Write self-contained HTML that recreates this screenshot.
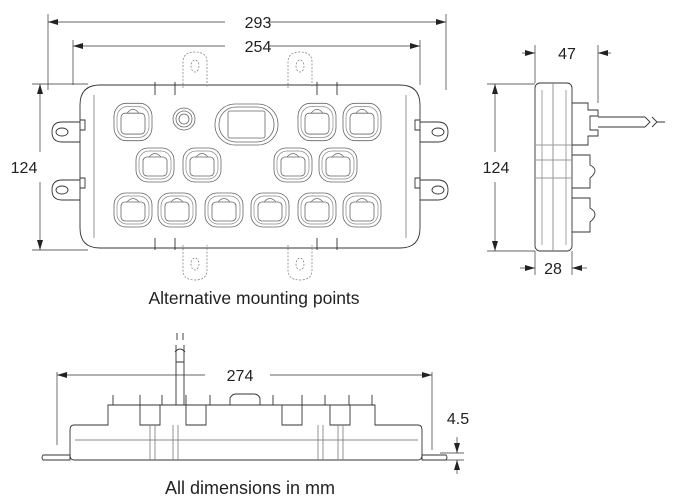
<!DOCTYPE html>
<html><head><meta charset="utf-8"><style>
html,body{margin:0;padding:0;background:#fff;width:676px;height:500px;overflow:hidden}
svg{display:block}
text{font-family:"Liberation Sans",sans-serif;fill:#222}
</style></head><body>
<svg width="676" height="500" viewBox="0 0 676 500" xmlns="http://www.w3.org/2000/svg">
<defs>
<marker id="a" viewBox="0 0 10 6" refX="10" refY="3" markerWidth="12" markerHeight="6" orient="auto-start-reverse" markerUnits="userSpaceOnUse"><path d="M0,0L10,3L0,6z" fill="#222"/></marker>
<g id="c">
<rect x="-19" y="-17" width="38" height="34" rx="12" fill="none" stroke="#666" stroke-width="0.8"/>
<rect x="-16" y="-14" width="32" height="28" rx="10" fill="none" stroke="#888" stroke-width="0.7"/>
<rect x="-12" y="-8" width="24" height="19" rx="4" fill="none" stroke="#666" stroke-width="0.8"/>
<path d="M-6,-8 Q0,-15 6,-8" fill="none" stroke="#666" stroke-width="0.7"/>
</g>
</defs>
<g stroke="#333" stroke-width="0.7" fill="none">
<line x1="48" y1="14" x2="48" y2="90"/><line x1="446" y1="14" x2="446" y2="90"/>
<line x1="73" y1="40" x2="73" y2="85"/><line x1="420" y1="40" x2="420" y2="85"/>
<line x1="48" y1="22" x2="225" y2="22" marker-start="url(#a)"/><line x1="268" y1="22" x2="446" y2="22" marker-end="url(#a)"/>
<line x1="73" y1="46" x2="225" y2="46" marker-start="url(#a)"/><line x1="268" y1="46" x2="420" y2="46" marker-end="url(#a)"/>
<line x1="32" y1="84" x2="88" y2="84"/><line x1="32" y1="250" x2="88" y2="250"/>
<line x1="40" y1="84" x2="40" y2="152" marker-start="url(#a)"/><line x1="40" y1="182" x2="40" y2="250" marker-end="url(#a)"/>
</g>
<text x="258" y="28" font-size="16" text-anchor="middle">293</text>
<text x="258" y="52" font-size="16" text-anchor="middle">254</text>
<text x="24" y="173" font-size="16" text-anchor="middle">124</text>
<g stroke="#333" stroke-width="0.9" fill="none">
<path d="M100,85 H400 Q420,85 420,105 V228 Q420,248 400,248 H100 Q80,248 80,228 V105 Q80,85 100,85z"/>
<line x1="94" y1="95" x2="94" y2="238" stroke="#888"/><line x1="406" y1="95" x2="406" y2="238" stroke="#888"/>
<path d="M80,122 H62 Q52,122 52,132 Q52,142 62,142 H80"/><ellipse cx="62" cy="132" rx="6" ry="4"/>
<path d="M80,180 H62 Q52,180 52,190 Q52,200 62,200 H80"/><ellipse cx="62" cy="190" rx="6" ry="4"/>
<path d="M420,122 H438 Q448,122 448,132 Q448,142 438,142 H420"/><ellipse cx="438" cy="132" rx="6" ry="4"/>
<path d="M420,180 H438 Q448,180 448,190 Q448,200 438,200 H420"/><ellipse cx="438" cy="190" rx="6" ry="4"/>
<path d="M80,120 H85 V130 H80 M80,178 H85 V188 H80 M420,120 H415 V130 H420 M420,178 H415 V188 H420"/>
<path d="M155,82 V95 M175,82 V95 M317,82 V95 M337,82 V95 M155,238 V250 M175,238 V250 M317,238 V250 M337,238 V250"/>
</g>
<g stroke="#777" stroke-width="0.7" fill="none" stroke-dasharray="2,1.5">
<path d="M183,88 V62 Q183,52 195,52 Q207,52 207,62 V88"/><ellipse cx="195" cy="66" rx="4" ry="6"/>
<path d="M288,88 V62 Q288,52 300,52 Q312,52 312,62 V88"/><ellipse cx="300" cy="66" rx="4" ry="6"/>
<path d="M183,245 V270 Q183,280 195,280 Q207,280 207,270 V245"/><ellipse cx="195" cy="264" rx="4" ry="6"/>
<path d="M288,245 V270 Q288,280 300,280 Q312,280 312,270 V245"/><ellipse cx="300" cy="264" rx="4" ry="6"/>
</g>
<use href="#c" transform="translate(133,122) scale(1,1.1)"/>
<use href="#c" transform="translate(317,122) scale(1,1.1)"/>
<use href="#c" transform="translate(362,122) scale(1,1.1)"/>
<use href="#c" transform="translate(155,165)"/>
<use href="#c" transform="translate(202,165)"/>
<use href="#c" transform="translate(293,165)"/>
<use href="#c" transform="translate(338,165)"/>
<use href="#c" transform="translate(133,210)"/>
<use href="#c" transform="translate(177,210)"/>
<use href="#c" transform="translate(224,210)"/>
<use href="#c" transform="translate(270,210)"/>
<use href="#c" transform="translate(317,210)"/>
<use href="#c" transform="translate(362,210)"/>
<g stroke="#666" stroke-width="0.8" fill="none">
<circle cx="184" cy="119" r="11"/><circle cx="184" cy="119" r="8"/><circle cx="184" cy="119" r="5"/>
<rect x="215" y="104" width="63" height="41" rx="20"/><rect x="219" y="107" width="55" height="35" rx="17"/>
<rect x="228" y="111" width="37" height="27" rx="2"/>
</g>
<text x="254" y="304" font-size="17.5" text-anchor="middle">Alternative mounting points</text>
<g stroke="#333" stroke-width="0.9" fill="none">
<rect x="535" y="83" width="37" height="168" rx="5"/>
<line x1="553" y1="83" x2="553" y2="251" stroke="#888"/>
<path d="M542,90 V245 M566,90 V245" stroke="#999"/>
<path d="M535,145 H572 M535,160 H572 M535,178 H572" stroke="#999"/>
<path d="M572,103 H588 V110 H598 V116 H590 V130 H598 V136 H588 V145 H572"/>
<path d="M572,155 H590 V165 Q600,170 590,178 V188 H572"/>
<path d="M572,198 H590 V208 Q600,214 590,222 V232 H572"/>
<path d="M598,117 H645 M598,127 H645 M645,117 L650,122 L645,127 M652,117 L657,122 L652,127 M657,122 H665"/>
</g>
<g stroke="#333" stroke-width="0.7" fill="none">
<line x1="535" y1="45" x2="535" y2="83"/><line x1="598" y1="45" x2="598" y2="103"/>
<line x1="522" y1="53" x2="535" y2="53" marker-end="url(#a)"/><line x1="611" y1="53" x2="598" y2="53" marker-end="url(#a)"/>
<line x1="535" y1="251" x2="535" y2="275"/><line x1="572" y1="251" x2="572" y2="275"/>
<line x1="520" y1="268" x2="535" y2="268" marker-end="url(#a)"/><line x1="587" y1="268" x2="572" y2="268" marker-end="url(#a)"/>
<line x1="487" y1="84" x2="535" y2="84"/><line x1="487" y1="251" x2="535" y2="251"/>
<line x1="495" y1="84" x2="495" y2="152" marker-start="url(#a)"/><line x1="495" y1="182" x2="495" y2="251" marker-end="url(#a)"/>
</g>
<text x="567" y="59" font-size="16" text-anchor="middle">47</text>
<text x="553" y="274" font-size="16" text-anchor="middle">28</text>
<text x="496" y="173" font-size="16" text-anchor="middle">124</text>
<g stroke="#333" stroke-width="0.7" fill="none">
<line x1="57" y1="372" x2="57" y2="445"/><line x1="432" y1="372" x2="432" y2="450"/>
<line x1="57" y1="375" x2="205" y2="375" marker-start="url(#a)"/><line x1="270" y1="375" x2="432" y2="375" marker-end="url(#a)"/>
<line x1="440" y1="453" x2="464" y2="453"/><line x1="440" y1="460" x2="464" y2="460"/>
<line x1="457" y1="437" x2="457" y2="453" marker-end="url(#a)"/><line x1="457" y1="474" x2="457" y2="460" marker-end="url(#a)"/>
</g>
<text x="240" y="381" font-size="16" text-anchor="middle">274</text>
<text x="458" y="424" font-size="16" text-anchor="middle">4.5</text>
<g stroke="#333" stroke-width="0.9" fill="none">
<path d="M74,425 H108 V405 H375 V425 H418 Q422,425 422,430 V455 Q422,460 418,460 H74 Q70,460 70,455 V430 Q70,425 74,425z"/>
<path d="M43,455 H70 V460 H43 Q41,457.5 43,455z M422,455 H446 Q448,457.5 446,460 H422z"/>
<path d="M113,405 V395 M140,405 V395 M162,405 V395 M186,405 V395 M210,405 V395 M273,405 V395 M302,405 V395 M325,405 V395 M349,405 V395 M372,405 V395"/>
<path d="M230,405 V398 Q232,394 236,394 H254 Q258,394 260,398 V405"/>
<path d="M140,405 V425 H160 V405 M186,405 V425 H206 V405 M282,405 V425 H302 V405 M330,405 V425 H350 V405"/>
<path d="M75,440 H418 M150,425 V460 M155,425 V460 M173,425 V460 M178,425 V460 M318,425 V460 M323,425 V460 M338,425 V460 M343,425 V460" stroke="#888"/>
<path d="M176,405 V362 H184 V405 M176,362 V345 M184,362 V345 M175,352 Q180,346 185,352 M177,340 V333 M183,340 V333"/>
</g>
<text x="250" y="494" font-size="18" text-anchor="middle">All dimensions in mm</text>
</svg>
</body></html>
